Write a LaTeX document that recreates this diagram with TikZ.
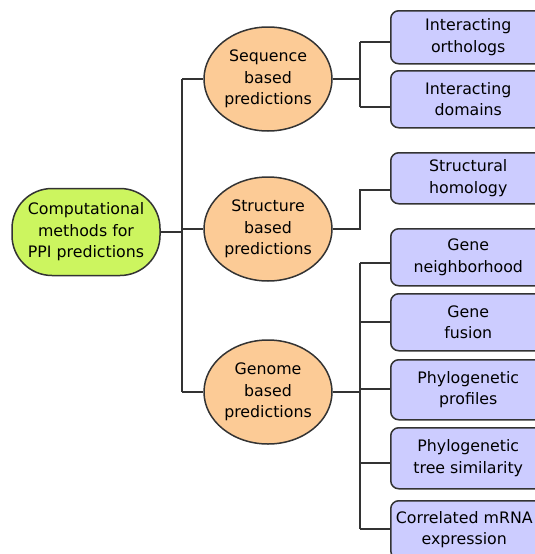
\documentclass[tikz,border=0pt]{standalone}
\usepackage{fontspec}
\setmainfont{DejaVu Sans}
\usetikzlibrary{shapes.geometric}
\definecolor{rootfill}{HTML}{CCF55F}
\definecolor{midfill}{HTML}{FCCB96}
\definecolor{leaffill}{HTML}{CCCCFF}
\definecolor{edge}{HTML}{333333}
\tikzset{
  every node/.style={font=\fontsize{15.8}{21.5}\selectfont, text=black, align=center},
  rootbox/.style={draw=edge, line width=1.5pt, fill=rootfill, rounded corners=40pt, minimum width=148pt, minimum height=87pt, inner sep=0pt},
  midell/.style={draw=edge, line width=1.5pt, fill=midfill, ellipse, minimum width=128pt, minimum height=104pt, inner sep=0pt},
  leafbox/.style={draw=edge, line width=1.5pt, fill=leaffill, rounded corners=8pt, minimum width=155pt, inner sep=0pt},
  conn/.style={draw=edge, line width=1.6pt}
}
\begin{document}
\begin{tikzpicture}[x=1pt,y=-1pt]
\useasboundingbox (0,0) rectangle (535,554);
\clip (0,0) rectangle (535,554);
\fill[white] (0,0) rectangle (535,554);
\coordinate (bus1) at (182,79);
\coordinate (bus2) at (182,232);
\coordinate (bus3) at (182,392);
\coordinate (j1) at (360,79);
\coordinate (j2) at (360,229);
\coordinate (j3) at (360,390);
\coordinate (c1) at (392,42);
\coordinate (c2) at (392,107);
\coordinate (c3) at (392,190);
\coordinate (c4) at (392,263);
\coordinate (c5) at (392,322);
\coordinate (c6) at (392,389);
\coordinate (c7) at (392,463);
\coordinate (c8) at (392,529);

\node[rootbox] (root) at (86,232) {Computational\\methods for\\PPI predictions};
\node[midell] (seq) at (268,79) {Sequence\\based\\predictions};
\node[midell] (str) at (268,229) {Structure\\based\\predictions};
\node[midell] (gen) at (268,392) {Genome\\based\\predictions};

\draw[conn] (root.east) -- (root.east -| bus2);
\draw[conn] (bus1) -- (bus3);
\draw[conn] (bus1) -- (seq.west);
\draw[conn] (bus3) -- (gen.west);
\draw[conn] (str.west -| bus2) -- (str.west);

\draw[conn] (seq.east) -- (seq.east -| j1);
\draw[conn] (j1 |- c1) -- (j1 |- c2);
\draw[conn] (j1 |- c1) -- (c1);
\draw[conn] (j1 |- c2) -- (c2);

\draw[conn] (str.east) -- (str.east -| j2) -- (j2 |- c3) -- (c3);

\draw[conn] (gen.east) -- (gen.east -| j3);
\draw[conn] (j3 |- c4) -- (j3 |- c8);
\draw[conn] (j3 |- c4) -- (c4);
\draw[conn] (j3 |- c5) -- (c5);
\draw[conn] (j3 |- c6) -- (c6);
\draw[conn] (j3 |- c7) -- (c7);
\draw[conn] (j3 |- c8) -- (c8);

\node[leafbox, minimum height=53pt, anchor=north west] (b1) at (390,10) {};
\node at (b1.center) {Interacting\\orthologs};
\node[leafbox, minimum height=57pt, anchor=north west] (b2) at (390,70) {};
\node at (b2.center) {Interacting\\domains};
\node[leafbox, minimum height=51pt, anchor=north west] (b3) at (390,152) {};
\node at (b3.center) {Structural\\homology};
\node[leafbox, minimum height=57pt, anchor=north west] (b4) at (390,228) {};
\node at (b4.center) {Gene\\neighborhood};
\node[leafbox, minimum height=57pt, anchor=north west] (b5) at (390,293) {};
\node at (b5.center) {Gene\\fusion};
\node[leafbox, minimum height=60pt, anchor=north west] (b6) at (390,359) {};
\node at (b6.center) {Phylogenetic\\profiles};
\node[leafbox, minimum height=61pt, anchor=north west] (b7) at (390,427) {};
\node at (b7.center) {Phylogenetic\\tree similarity};
\node[leafbox, minimum height=58pt, anchor=north west] (b8) at (390,500) {};
\node at ([xshift=-4pt]b8.center) {Correlated mRNA\\expression};
\end{tikzpicture}
\end{document}
